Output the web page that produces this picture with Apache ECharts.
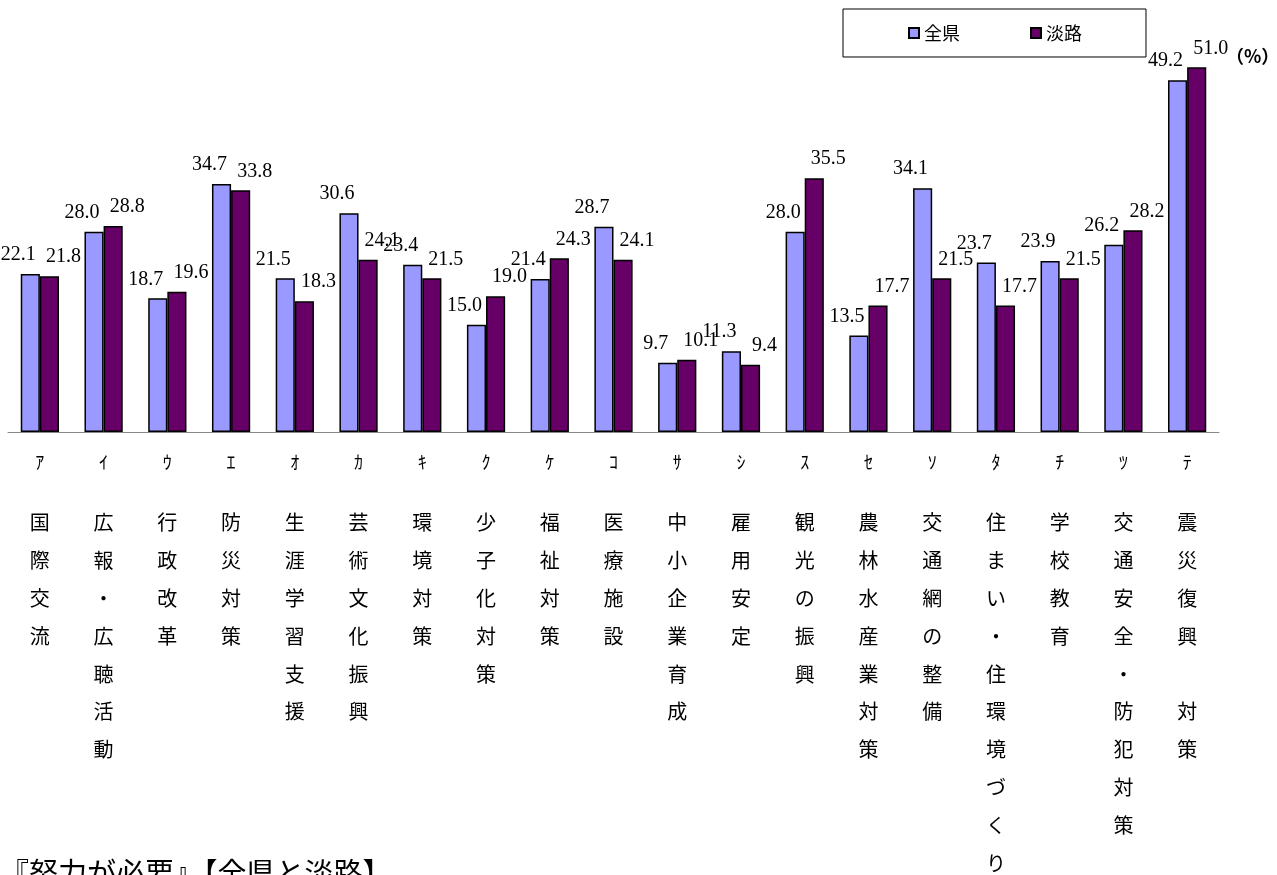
<!DOCTYPE html>
<html>
<head>
<meta charset="utf-8">
<script src="https://cdn.jsdelivr.net/npm/echarts@6/dist/echarts.min.js"></script>
<style>
  html, body { margin: 0; padding: 0; background: #fff; }
  #chart { width: 1277px; height: 875px; }
</style>
</head>
<body>
<div id="chart"></div>
<script>
const letters = ['ｱ', 'ｲ', 'ｳ', 'ｴ', 'ｵ', 'ｶ', 'ｷ', 'ｸ', 'ｹ', 'ｺ', 'ｻ', 'ｼ', 'ｽ', 'ｾ', 'ｿ', 'ﾀ', 'ﾁ', 'ﾂ', 'ﾃ']
const categories = ['国際交流', '広報・広聴活動', '行政改革', '防災対策', '生涯学習支援', '芸術文化振興',
  '環境対策', '少子化対策', '福祉対策', '医療施設', '中小企業育成', '雇用安定', '観光の振興',
  '農林水産業対策', '交通網の整備', '住まい・住環境づくり', '学校教育', '交通安全・防犯対策', '震災復興　対策']
const zenken = [22.1, 28.0, 18.7, 34.7, 21.5, 30.6, 23.4, 15.0, 21.4, 28.7, 9.7, 11.3, 28.0, 13.5, 34.1, 23.7, 23.9, 26.2, 49.2]
const awaji = [21.8, 28.8, 19.6, 33.8, 18.3, 24.1, 21.5, 19.0, 24.3, 24.1, 10.1, 9.4, 35.5, 17.7, 21.5, 17.7, 21.5, 28.2, 51.0]

const serif = '"Liberation Serif", "DejaVu Serif", serif'
const cjk = '"Noto Sans CJK JP", sans-serif'

const chart = echarts.init(document.getElementById('chart'))

const barLabel = (dx) => ({
  show: true,
  position: 'top',
  distance: 5,
  offset: [dx, -4],
  color: '#000',
  fontFamily: serif,
  fontSize: 20,
  formatter: (p) => p.value.toFixed(1)
})

chart.setOption({
  animation: false,
  grid: { left: 8, right: 58, top: 3, bottom: 443, outerBoundsMode: 'none', containLabel: false },
  legend: {
    left: 843,
    top: 9,
    padding: [15, 64, 15, 65],
    itemGap: 70,
    itemWidth: 10,
    itemHeight: 10,
    borderColor: '#000',
    borderWidth: 1,
    textStyle: { fontFamily: cjk, fontSize: 18, color: '#000' },
    data: [{ name: '全県', icon: 'rect' }, { name: '淡路', icon: 'rect' }]
  },
  xAxis: [
    {
      type: 'category',
      data: letters,
      axisTick: { show: false },
      axisLine: { lineStyle: { color: '#888', width: 1 } },
      axisLabel: { margin: 21, color: '#000', fontFamily: cjk, fontSize: 18 }
    },
    {
      type: 'category',
      position: 'bottom',
      data: categories,
      axisTick: { show: false },
      axisLine: { show: false },
      axisLabel: {
        margin: 72,
        color: '#000',
        fontFamily: cjk,
        fontSize: 20,
        lineHeight: 37.8,
        verticalAlign: 'top',
        formatter: (v) => v.split('').join('\n')
      }
    }
  ],
  yAxis: {
    type: 'value',
    min: 0,
    max: 60,
    show: false,
    splitLine: { show: false }
  },
  graphic: [
    {
      type: 'text',
      left: 1226,
      top: 47,
      style: { text: '（%）', fontFamily: cjk, fontSize: 18, fontWeight: 'bold', fill: '#000' }
    },
    {
      type: 'text',
      left: 0,
      top: 858,
      style: { text: '『努力が必要』【全県と淡路】', fontFamily: cjk, fontSize: 29, fill: '#000' }
    }
  ],
  series: [
    {
      name: '全県',
      type: 'bar',
      data: zenken,
      barGap: '0%',
      barCategoryGap: '40%',
      itemStyle: { color: '#9999FF', borderColor: '#000', borderWidth: 1.5 },
      label: barLabel(-12)
    },
    {
      name: '淡路',
      type: 'bar',
      data: awaji,
      itemStyle: { color: '#660066', borderColor: '#000', borderWidth: 1.5 },
      label: barLabel(14)
    }
  ]
})
</script>
</body>
</html>
